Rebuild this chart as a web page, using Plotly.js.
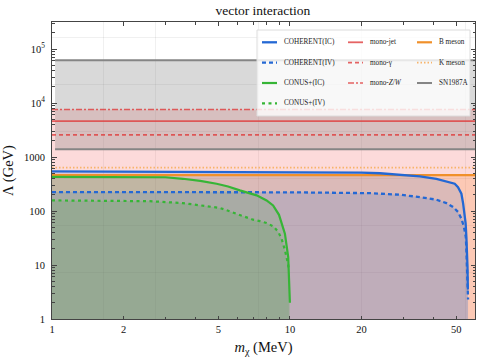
<!DOCTYPE html>
<html>
<head>
<meta charset="utf-8">
<script src="https://cdn.plot.ly/plotly-3.0.1.min.js"></script>
<style>
  html, body { margin: 0; padding: 0; background: white; }
  #chart { width: 478px; height: 360px; }
</style>
</head>
<body>
<div id="chart"></div>
<script>
// ---- values ----
const massSpan = [1, 60];
const snSpan = [1.03, 60];

// COHERENT, vector interaction (m_chi in MeV, Lambda in GeV)
const coherentIC_m = [1, 10, 20, 23.9, 29, 35.2, 41.3, 45.5, 49.3, 50.9, 52.6, 53.5, 54.3, 54.8, 55.2, 55.6, 55.8, 56];
const coherentIC_L = [540, 530, 512, 500, 474, 436, 395, 357, 320, 277, 209, 137, 90, 59, 33, 19, 9.3, 3.5];
const coherentIV_m = [1, 10, 21.7, 23.9, 29, 35.2, 41.3, 45.5, 48.5, 50.9, 52.6, 53.9, 54.9, 55.2, 55.6, 56, 56.1];
const coherentIV_L = [224, 222, 214, 209, 200, 181, 162, 140, 119, 96, 72, 51, 33, 19, 9.3, 4.6, 2.3];

// CONUS+
const conusIC_m = [1, 2, 3, 3.55, 4.2, 4.92, 5.5, 6.16, 6.79, 7.25, 7.98, 8.5, 9.0, 9.53, 9.84, 10];
const conusIC_L = [430, 428, 422, 395, 361, 320, 285, 241, 209, 195, 157, 127, 85, 38, 14, 2];
const conusIV_m = [1, 2, 2.58, 3.55, 4.19, 5.08, 5.6, 6.16, 6.57, 7.0, 7.48, 7.98, 8.51, 8.94, 9.24, 9.53, 9.84, 9.9];
const conusIV_L = [157, 155, 152, 140, 128, 114, 98, 84, 75, 69, 65, 60, 52, 41, 30, 19, 10, 8];

// flat bounds
const monoJet = 4600;
const monoGamma = 2570;
const monoZW = 7560;
const bMeson = 460;
const kMeson = 635;
const snUpper = 62000;
const snLower = 1390;

// ticks
const yTickVals = [1, 10, 100, 1000, 1e4, 1e5];
const yTickText = ['1', '10', '100', '1000', '10<sup>4</sup>', '10<sup>5</sup>'];
const xTickVals = [1, 2, 5, 10, 20, 50];
const xTickText = ['1', '2', '5', '10', '20', '50'];
const xMinor = [3, 4, 6, 7, 8, 9, 30, 40];
const yMinor = [];
for (let d = 0; d < 6; d++) for (let k = 2; k <= 9; k++) yMinor.push(k * Math.pow(10, d));
const gridX = [Math.exp(0.5), Math.exp(1), Math.exp(2), Math.exp(3), Math.exp(4)];
const gridY = [2, 4, 6, 8, 10, 12].map(k => Math.exp(k));

const legendCols = [
    ['COHERENT(IC)', 'COHERENT(IV)', 'CONUS+(IC)', 'CONUS+(IV)'],
    ['mono-jet', 'mono-γ', 'mono-<i>Z</i>/<i>W</i>'],
    ['B meson', 'K meson', 'SN1987A']
];

// ---- styles ----
const C = {
    blue: '#2468d4', green: '#36b536', red: 'rgba(222,60,60,0.8)',
    orange: '#f0902a', kOrange: '#f7b46a', grey: '#858585'
};
const legendStyles = [
    [{ color: C.blue, width: 2.3, dash: 'solid' }, { color: C.blue, width: 2.3, dash: '4px,3px' },
     { color: C.green, width: 2.2, dash: 'solid' }, { color: C.green, width: 2.2, dash: '3px,3.5px' }],
    [{ color: C.red, width: 1.8, dash: 'solid' }, { color: C.red, width: 1.8, dash: '4px,3px' },
     { color: C.red, width: 1.5, dash: '6px,2px,2px,2px' }],
    [{ color: C.orange, width: 2.2, dash: 'solid' }, { color: C.kOrange, width: 1.6, dash: '1.5px,2px' },
     { color: C.grey, width: 2, dash: 'solid' }]
];

const flat = v => [v, v];

function fillTrace(x, y, color, fill = 'tozeroy') {
    return { x, y, mode: 'lines', fill, fillcolor: color, line: { width: 0 }, hoverinfo: 'skip', showlegend: false };
}
function lineTrace(x, y, style) {
    return { x, y, mode: 'lines', line: { color: style.color, width: style.width, dash: style.dash }, showlegend: false };
}

const traces = [
    fillTrace(massSpan, flat(monoZW), 'rgba(238,72,72,0.2)'),
    fillTrace(snSpan, flat(snLower), 'rgba(0,0,0,0)', 'none'),
    fillTrace(snSpan, flat(snUpper), 'rgba(128,128,128,0.3)', 'tonexty'),
    fillTrace(massSpan, flat(bMeson), 'rgba(255,127,14,0.18)'),
    fillTrace(coherentIC_m, coherentIC_L, 'rgba(31,100,200,0.15)'),
    fillTrace(coherentIV_m, coherentIV_L, 'rgba(31,100,200,0.15)'),
    fillTrace(conusIC_m, conusIC_L, 'rgba(44,160,44,0.15)'),
    fillTrace(conusIV_m, conusIV_L, 'rgba(44,160,44,0.15)'),

    lineTrace(snSpan, flat(snUpper), legendStyles[2][2]),
    lineTrace(snSpan, flat(snLower), legendStyles[2][2]),
    lineTrace(massSpan, flat(monoZW), legendStyles[1][2]),
    lineTrace(massSpan, flat(monoJet), legendStyles[1][0]),
    lineTrace(massSpan, flat(monoGamma), legendStyles[1][1]),
    lineTrace(massSpan, flat(kMeson), legendStyles[2][1]),
    lineTrace(massSpan, flat(bMeson), legendStyles[2][0]),
    lineTrace(coherentIC_m, coherentIC_L, legendStyles[0][0]),
    lineTrace(coherentIV_m, coherentIV_L, legendStyles[0][1]),
    lineTrace(conusIC_m, conusIC_L, legendStyles[0][2]),
    lineTrace(conusIV_m, conusIV_L, legendStyles[0][3]),
    // carrier for the light grid axes
    { x: [], y: [], xaxis: 'x2', yaxis: 'y2', showlegend: false }
];

// ---- legend box, drawn in plot-paper coords ----
const W = 478, H = 360;
const M = { l: 52, r: 3, t: 22, b: 41 };
const pw = W - M.l - M.r, ph = H - M.t - M.b;
const px = x => (x - M.l) / pw;
const py = y => (H - M.b - y) / ph;

const legendBox = { x0: 257, x1: 470, y0: 30, y1: 116 };
const colX = [262, 348, 417];
const rowY = [42.3, 62.6, 83, 103.4];
const sampleLen = 15, textGap = 5;

const shapes = [{
    type: 'rect', xref: 'paper', yref: 'paper',
    x0: px(legendBox.x0), x1: px(legendBox.x1), y0: py(legendBox.y1), y1: py(legendBox.y0),
    fillcolor: 'rgba(255,255,255,0.8)', line: { color: '#dcdcdc', width: 1 }, layer: 'above'
}];
const annotations = [];
legendCols.forEach((col, c) => col.forEach((name, r) => {
    const st = legendStyles[c][r];
    shapes.push({
        type: 'line', xref: 'paper', yref: 'paper',
        x0: px(colX[c]), x1: px(colX[c] + sampleLen), y0: py(rowY[r]), y1: py(rowY[r]),
        line: { color: st.color, width: st.width, dash: st.dash }, layer: 'above'
    });
    annotations.push({
        xref: 'paper', yref: 'paper', x: px(colX[c] + sampleLen + textGap), y: py(rowY[r]),
        xanchor: 'left', yanchor: 'middle', showarrow: false, text: name,
        font: { size: 7.2, color: '#222' }
    });
}));

const serif = '"Liberation Serif", "Times New Roman", serif';
const axisCommon = {
    type: 'log', showline: true, linecolor: '#444', linewidth: 1, mirror: 'allticks',
    ticks: 'inside', tickcolor: '#444', tickwidth: 1, ticklen: 4.5,
    showgrid: false, zeroline: false, tickfont: { size: 10.5, color: '#111' }
};

const layout = {
    width: W, height: H,
    margin: M,
    paper_bgcolor: 'white', plot_bgcolor: 'white',
    font: { family: serif, color: '#111' },
    showlegend: false,
    title: { text: 'vector interaction', x: 0.55, xanchor: 'center', y: 1 - 10 / H, yanchor: 'middle', yref: 'container', font: { size: 13.5 } },
    xaxis: {
        ...axisCommon,
        range: massSpan.map(Math.log10),
        tickmode: 'array', tickvals: xTickVals, ticktext: xTickText, ticklen: 3.5,
        minor: { tickmode: 'array', tickvals: xMinor, ticks: 'inside', ticklen: 2.5, tickcolor: '#444' },
        title: { text: '<i>m</i><sub>χ</sub> (MeV)', font: { size: 14.5 }, standoff: 8 }
    },
    yaxis: {
        ...axisCommon,
        range: [0, 5.5],
        tickmode: 'array', tickvals: yTickVals, ticktext: yTickText,
        minor: { tickmode: 'array', tickvals: yMinor, ticks: 'inside', ticklen: 2.5, tickcolor: '#444' },
        ticklabelstandoff: 4,
        title: { text: 'Λ (GeV)', font: { size: 14.5 }, standoff: 6 }
    },
    xaxis2: {
        type: 'log', overlaying: 'x', anchor: 'y2', range: massSpan.map(Math.log10),
        tickmode: 'array', tickvals: gridX, showticklabels: false, ticks: '',
        showgrid: true, gridcolor: 'rgba(0,0,0,0.06)', gridwidth: 1, showline: false, zeroline: false
    },
    yaxis2: {
        type: 'log', overlaying: 'y', anchor: 'x2', range: [0, 5.5],
        tickmode: 'array', tickvals: gridY, showticklabels: false, ticks: '',
        showgrid: true, gridcolor: 'rgba(0,0,0,0.06)', gridwidth: 1, showline: false, zeroline: false
    },
    shapes,
    annotations
};

Plotly.newPlot('chart', traces, layout, { staticPlot: true, displayModeBar: false });
</script>
</body>
</html>
